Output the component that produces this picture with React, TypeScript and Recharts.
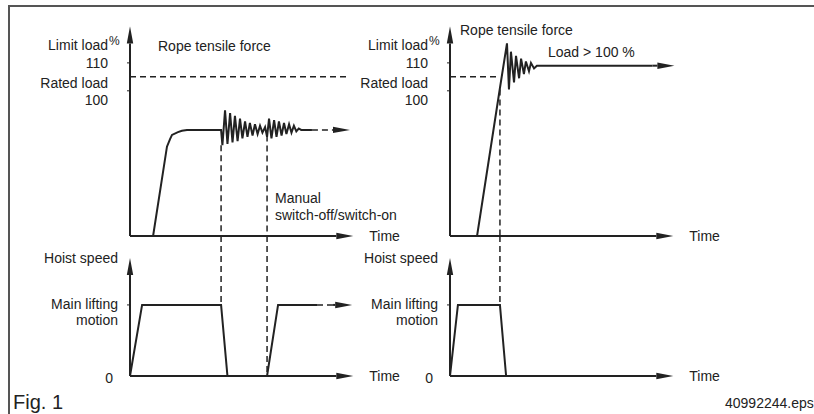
import React from "react";
import { LineChart, Line, XAxis, YAxis, ReferenceLine } from "recharts";

const INK = "#222";
const FONT = "'Liberation Sans', Arial, sans-serif";

// time axis (schematic)
const timeDomain = [0, 102];
const timeAxisEnd = 101.5;

// rope tensile force, % of rated load (axis broken below 48)
const forceDomain = [48, 125];
const forceTicks = [110, 100];
const forceTickNames = ["Limit load", "Rated load"];
const forceAxisTop = 123;
const cutOffLevel = 105;

// hoist speed, % of main lifting speed
const speedDomain = [0, 197];
const speedTicks = [100, 0];
const speedTickNames = [["Main lifting", "motion"], ["0"]];
const speedAxisTop = 166;

// left: normal load, manual switch-off / switch-on
const leftForceTime = [
  0, 10.5, 16.8, 18.2, 19.1, 21.8, 23.6, 25.9, 41.4,
  42.0, 43.2, 44.3, 45.5, 46.6, 47.7, 48.9, 50.0, 51.1, 52.3, 53.4, 54.5, 55.7, 56.8, 58.0, 59.1, 60.2, 61.4,
  62.3, 63.2, 64.3, 65.5, 66.6, 67.7, 68.9, 70.0, 71.1, 72.3, 73.4, 74.5, 75.6, 76.7, 77.8, 82.7,
];
const leftForceValue = [
  48, 48, 80, 82.7, 84.2, 85.2, 85.7, 86, 86,
  80.5, 93, 81, 92, 81.5, 91, 82, 90, 83, 89, 83.5, 88.5, 84, 88, 84.5, 87.5, 85, 87,
  83.5, 90, 83, 89.5, 83.5, 89, 84, 88.5, 84.5, 88, 85, 87.5, 85.5, 86.5, 86, 86,
];
const leftForceTailTime = [82.7, 92.3];
const leftForceTailValue = [86, 86];
const leftForceArrowTime = [92.3, 100];

const leftSpeedTime = [0, 5.5, 41.4, 44.3, 62.3, 67.3, 85];
const leftSpeedValue = [0, 100, 100, 0, 0, 100, 100];
const leftSpeedTailTime = [85, 92.3];
const leftSpeedTailValue = [100, 100];
const leftSpeedArrowTime = [92.3, 101];

const leftSwitchTime = [41.4, 62.3];
const leftSwitchForce = [80.5, 84];
const leftSwitchSpeed = [100, 0];
const leftCutOffEnd = 99;

// right: overload, hoist motion cut off
const rightForceTime = [
  0, 12.3, 22.7, 25.9, 26.8, 27.7, 29.1, 30.0, 31.4, 32.3, 33.6, 34.5, 35.9, 36.8, 38.2, 39.5, 92,
];
const rightForceValue = [
  48, 48, 101, 117, 100.5, 114, 103, 112.5, 104.5, 111.5, 106, 110.5, 107, 110, 108, 109, 109,
];
const rightForceArrowTime = [92, 102];

const rightSpeedTime = [0, 3.6, 22.7, 25.5];
const rightSpeedValue = [0, 100, 100, 0];

const rightSwitchTime = [22.7];
const rightSwitchForce = [100.5];
const rightSwitchSpeed = [100];
const rightCutOffEnd = 22.7;

const zip = (t: number[], v: number[]) => t.map((x, i) => ({ t: x, v: v[i] }));

function Arrow(props: any) {
  const { x1 = 0, y1 = 0, x2 = 0, y2 = 0, text, dx = 0, dy = 0, anchor = "start" } = props;
  const len = Math.hypot(x2 - x1, y2 - y1) || 1;
  const ux = (x2 - x1) / len;
  const uy = (y2 - y1) / len;
  const bx = x2 - ux * 17;
  const by = y2 - uy * 17;
  const nx = -uy * 3.2;
  const ny = ux * 3.2;
  return (
    <g>
      <line x1={x1} y1={y1} x2={bx} y2={by} stroke={INK} strokeWidth={2} />
      <polygon points={`${x2},${y2} ${bx + nx},${by + ny} ${bx - nx},${by - ny}`} fill={INK} />
      {text && (
        <text x={x2 + dx} y={y2 + dy} textAnchor={anchor} dominantBaseline="central" fontSize={14} fill={INK}>
          {text}
        </text>
      )}
    </g>
  );
}

function ForceTick({ x, y, payload }: any) {
  const i = forceTicks.indexOf(payload.value);
  const top = i === 0;
  return (
    <g fontSize={14} fill={INK}>
      <line x1={x - 3} x2={x} y1={y} y2={y} stroke={INK} strokeWidth={1} />
      <text x={x - 22} y={y + (top ? -18 : -8)} textAnchor="end" dominantBaseline="central">
        {forceTickNames[i]}
      </text>
      {top && (
        <text x={x - 21} y={y - 22} dominantBaseline="central" fontSize={12}>
          %
        </text>
      )}
      <text x={x - 22} y={y + (top ? 0 : 9)} textAnchor="end" dominantBaseline="central">
        {payload.value}
      </text>
    </g>
  );
}

function SpeedTick({ x, y, payload }: any) {
  const i = speedTicks.indexOf(payload.value);
  const lines = speedTickNames[i];
  if (lines.length === 1)
    return (
      <text x={x - 17} y={y + 2} textAnchor="end" dominantBaseline="central" fontSize={14} fill={INK}>
        {lines[0]}
      </text>
    );
  return (
    <g fontSize={14} fill={INK}>
      <line x1={x - 3} x2={x} y1={y} y2={y} stroke={INK} strokeWidth={1} />
      <text x={x - 12} y={y - 1} textAnchor="end" dominantBaseline="central">
        {lines[0]}
      </text>
      <text x={x - 12} y={y + 15} textAnchor="end" dominantBaseline="central">
        {lines[1]}
      </text>
    </g>
  );
}

const lineStyle = {
  type: "linear" as const,
  dataKey: "v",
  stroke: INK,
  strokeWidth: 2,
  dot: false,
  activeDot: false,
  isAnimationActive: false,
};

const dashStyle = { stroke: INK, strokeWidth: 1.5, strokeDasharray: "6 4", ifOverflow: "visible" as const };

function ForcePanel(p: any) {
  return (
    <LineChart width={420} height={252} margin={{ top: 21, right: 65.6, bottom: 16, left: 10 }}>
      <XAxis dataKey="t" type="number" domain={timeDomain} hide />
      <YAxis
        type="number"
        domain={forceDomain}
        ticks={forceTicks}
        interval={0}
        width={120}
        axisLine={false}
        tickLine={false}
        tickSize={0}
        tickMargin={0}
        tick={<ForceTick />}
      />
      <ReferenceLine segment={[{ x: 0, y: cutOffLevel }, { x: p.cutOffEnd, y: cutOffLevel }]} {...dashStyle} />
      {p.switchTime.map((t: number, i: number) => (
        <ReferenceLine key={t} segment={[{ x: t, y: p.switchForce[i] }, { x: t, y: forceDomain[0] }]} {...dashStyle} />
      ))}
      <Line data={p.force} {...lineStyle} />
      {p.tail && <Line data={p.tail} {...lineStyle} strokeDasharray="6 4" strokeWidth={1.5} />}
      <ReferenceLine
        segment={[{ x: p.arrow[0], y: p.arrowLevel }, { x: p.arrow[1], y: p.arrowLevel }]}
        ifOverflow="visible"
        shape={(s: any) => <Arrow {...s} />}
      />
      <ReferenceLine
        segment={[{ x: 0, y: forceDomain[0] }, { x: timeAxisEnd, y: forceDomain[0] }]}
        ifOverflow="visible"
        shape={(s: any) => <Arrow {...s} text="Time" dx={16} />}
      />
      <ReferenceLine
        segment={[{ x: 0, y: forceDomain[0] }, { x: 0, y: forceAxisTop }]}
        ifOverflow="visible"
        shape={(s: any) => <Arrow {...s} />}
      />
    </LineChart>
  );
}

function SpeedPanel(p: any) {
  return (
    <LineChart width={420} height={162} margin={{ top: 6, right: 65.6, bottom: 16, left: 10 }}>
      <XAxis dataKey="t" type="number" domain={timeDomain} hide />
      <YAxis
        type="number"
        domain={speedDomain}
        ticks={speedTicks}
        interval={0}
        width={120}
        axisLine={false}
        tickLine={false}
        tickSize={0}
        tickMargin={0}
        tick={<SpeedTick />}
      />
      {p.switchTime.map((t: number, i: number) => (
        <ReferenceLine key={t} segment={[{ x: t, y: speedDomain[1] }, { x: t, y: p.switchSpeed[i] }]} {...dashStyle} />
      ))}
      <Line data={p.speed} {...lineStyle} />
      {p.tail && <Line data={p.tail} {...lineStyle} strokeDasharray="6 4" strokeWidth={1.5} />}
      {p.arrow && (
        <ReferenceLine
          segment={[{ x: p.arrow[0], y: 100 }, { x: p.arrow[1], y: 100 }]}
          ifOverflow="visible"
          shape={(s: any) => <Arrow {...s} />}
        />
      )}
      <ReferenceLine
        segment={[{ x: 0, y: 0 }, { x: timeAxisEnd, y: 0 }]}
        ifOverflow="visible"
        shape={(s: any) => <Arrow {...s} text="Time" dx={16} />}
      />
      <ReferenceLine
        segment={[{ x: 0, y: 0 }, { x: 0, y: speedAxisTop }]}
        ifOverflow="visible"
        shape={(s: any) => <Arrow {...s} text="Hoist speed" anchor="end" dx={-12} />}
      />
    </LineChart>
  );
}

const note = (x: number, y: number, size = 14): React.CSSProperties => ({
  position: "absolute",
  left: x,
  top: y,
  transform: "translateY(-50%)",
  fontSize: size,
  lineHeight: 1,
  whiteSpace: "nowrap",
  color: INK,
});

export default function App() {
  return (
    <div
      style={{
        position: "absolute",
        left: 0,
        top: 0,
        width: 814,
        height: 414,
        background: "#fff",
        fontFamily: FONT,
        overflow: "hidden",
      }}
    >
      <div
        style={{
          position: "absolute",
          left: 8,
          top: 5,
          width: 820,
          height: 420,
          borderTop: "2px solid #555",
          borderLeft: "2px solid #555",
        }}
      />
      <div style={{ position: "absolute", left: 0, top: 0 }}>
        <ForcePanel
          force={zip(leftForceTime, leftForceValue)}
          tail={zip(leftForceTailTime, leftForceTailValue)}
          arrow={leftForceArrowTime}
          arrowLevel={leftForceTailValue[1]}
          switchTime={leftSwitchTime}
          switchForce={leftSwitchForce}
          cutOffEnd={leftCutOffEnd}
        />
      </div>
      <div style={{ position: "absolute", left: 0, top: 230 }}>
        <SpeedPanel
          speed={zip(leftSpeedTime, leftSpeedValue)}
          tail={zip(leftSpeedTailTime, leftSpeedTailValue)}
          arrow={leftSpeedArrowTime}
          switchTime={leftSwitchTime}
          switchSpeed={leftSwitchSpeed}
        />
      </div>
      <div style={{ position: "absolute", left: 320, top: 0 }}>
        <ForcePanel
          force={zip(rightForceTime, rightForceValue)}
          arrow={rightForceArrowTime}
          arrowLevel={rightForceValue[rightForceValue.length - 1]}
          switchTime={rightSwitchTime}
          switchForce={rightSwitchForce}
          cutOffEnd={rightCutOffEnd}
        />
      </div>
      <div style={{ position: "absolute", left: 320, top: 230 }}>
        <SpeedPanel
          speed={zip(rightSpeedTime, rightSpeedValue)}
          switchTime={rightSwitchTime}
          switchSpeed={rightSwitchSpeed}
        />
      </div>

      <div style={note(158, 46)}>Rope tensile force</div>
      <div style={note(460, 30)}>Rope tensile force</div>
      <div style={note(548, 52)}>Load &gt; 100 %</div>
      <div style={note(275, 198)}>Manual</div>
      <div style={note(275, 215)}>switch-off/switch-on</div>
      <div style={note(13, 402, 20)}>Fig. 1</div>
      <div style={note(725, 403, 14)}>40992244.eps</div>
    </div>
  );
}
